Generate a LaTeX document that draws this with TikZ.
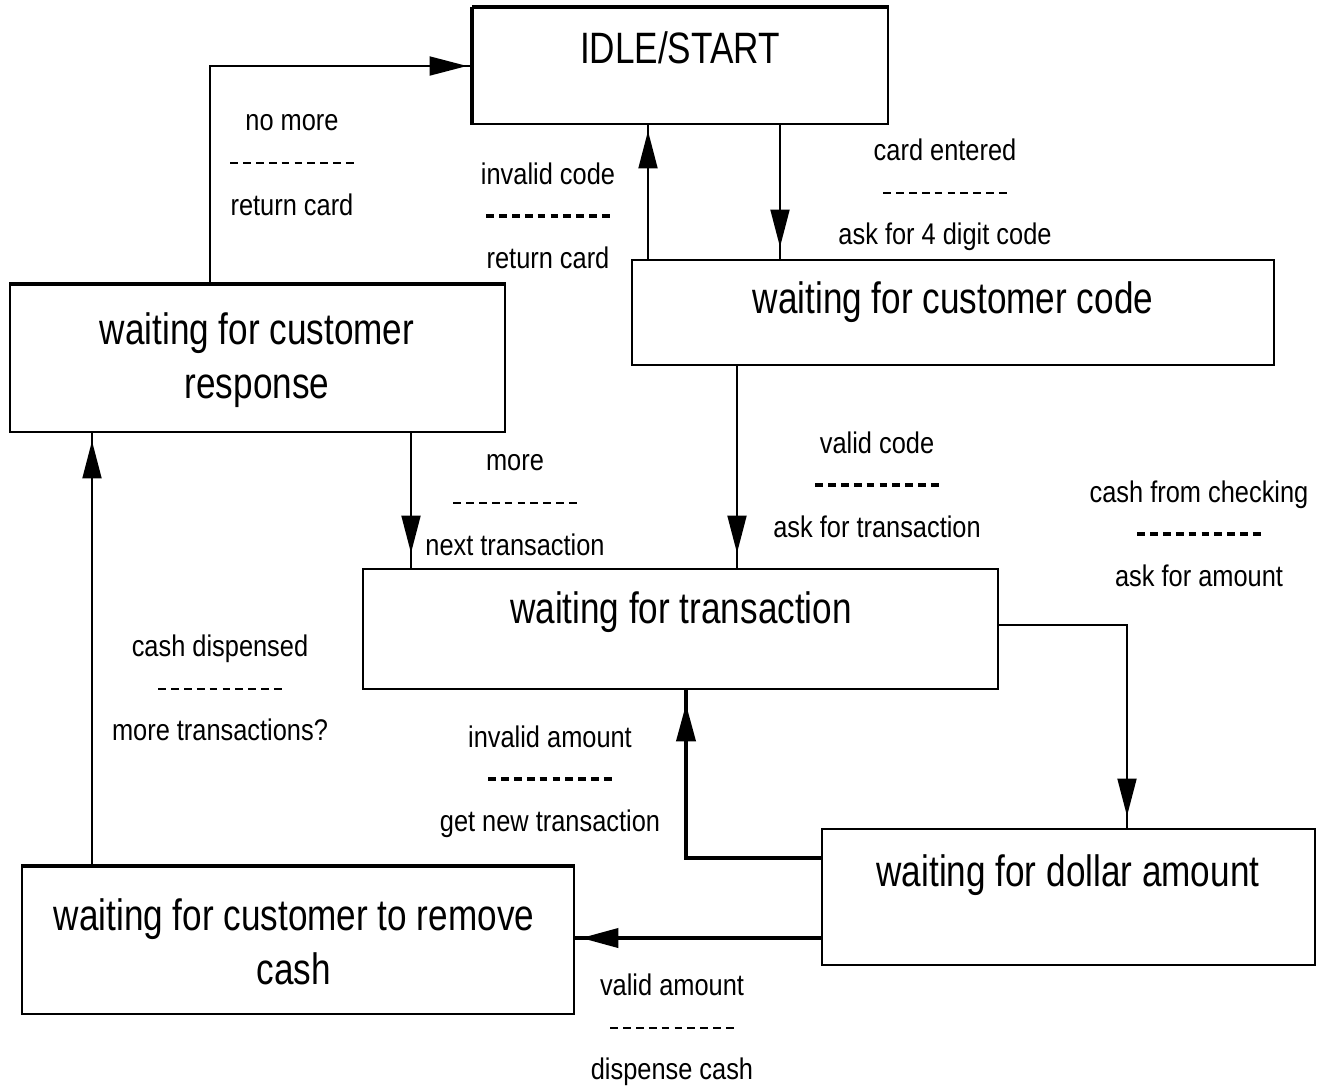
\documentclass[tikz,border=0pt]{standalone}
\usepackage{fontspec}
\setmainfont{Liberation Sans}
\newfontfamily\boxfont[FakeStretch=0.8]{Liberation Sans}
\newfontfamily\lblfont[FakeStretch=0.85]{Liberation Sans}
\usetikzlibrary{arrows.meta,decorations.markings,fit,calc}

% a row of ten short dashes between the event and the action of a label
\newcommand\dashrow[1]{\hbox to 73pt{\cleaders\hbox to 7.3pt{\hss\rule[0.3em]{4.4pt}{#1}\hss}\hfill}}

\begin{document}
\begin{tikzpicture}[
  x=0.02cm, y=-0.02cm,
  box/.style={draw, line width=1.1pt, inner sep=0pt},
  title/.style={font=\boxfont\fontsize{25}{31}\selectfont, align=center, inner sep=0pt},
  lbl/.style={font=\lblfont\fontsize{17}{24}\selectfont, align=center, inner sep=0pt},
  wire/.style={line width=1.1pt},
  heavy/.style={line width=2.3pt},
  flow/.style={postaction={decorate},
    decoration={markings, mark=at position -#1 with {\arrow{Triangle[length=0.75cm,width=0.38cm]}}}},
  flow/.default=0.24cm
]
\useasboundingbox (0,0) rectangle (1325,1090);
\fill[white] (0,0) rectangle (1325,1090);

% states
\node[box, fit={(473,8) (888,124)}] (idle) {};
\node[title, anchor=base] (idle-t) at (680,63) {IDLE/START};

\node[box, fit={(632,260) (1274,365)}] (code) {};
\node[title, anchor=base] (code-t) at (953,313) {waiting for customer code};

\node[box, fit={(10,285) (505,432)}] (resp) {};
\node[title] (resp-t) at (257,360) {waiting for customer\\response};

\node[box, fit={(363,569) (998,689)}] (trans) {};
\node[title, anchor=base] (trans-t) at (681,623) {waiting for transaction};

\node[box, fit={(822,829) (1315,965)}] (dollar) {};
\node[title, anchor=base] (dollar-t) at (1068,886) {waiting for dollar amount};

\node[box, fit={(22,867) (574,1014)}] (cash) {};
\node[title] (cash-t) at (294,942) {waiting for customer to remove\\cash};

% heavier top edges
\draw[line width=2.2pt] (idle.north west) -- (idle.north east);
\draw[line width=1.8pt] (idle.north west) -- (idle.south west);
\draw[line width=2.2pt] (resp.north west) -- (resp.north east);
\draw[line width=2.2pt] (cash.north west) -- (cash.north east);

% columns and rows the connectors run along
\coordinate (xa) at (210,0);
\coordinate (xb) at (648,0);
\coordinate (xc) at (780,0);
\coordinate (xd) at (411,0);
\coordinate (xe) at (737,0);
\coordinate (xf) at (1127,0);
\coordinate (xg) at (686,0);
\coordinate (xh) at (92,0);
\coordinate (ya) at (0,625);
\coordinate (yb) at (0,858);
\coordinate (yc) at (0,938);

% transitions
\draw[wire, flow=0.1cm] (resp.north -| xa) |- (idle.west);
\draw[wire, flow=0.12cm] (code.north -| xb) -- (idle.south -| xb);
\draw[wire, flow] (idle.south -| xc) -- (code.north -| xc);
\draw[wire, flow=0.3cm] (resp.south -| xd) -- (trans.north -| xd);
\draw[wire, flow=0.3cm] (code.south -| xe) -- (trans.north -| xe);
\draw[wire, flow=0.24cm] (trans.east |- ya) -| (dollar.north -| xf);
\draw[heavy, flow=0.28cm] (dollar.west |- yb) -| (trans.south -| xg);
\draw[heavy, flow=0.12cm] (dollar.west |- yc) -- (cash.east |- yc);
\draw[wire, flow=0.16cm] (cash.north -| xh) -- (resp.south -| xh);

% transition labels: event / action
\node[lbl] (l-nomore) at (292,165) {no more\\\dashrow{1.1pt}\\return card};
\node[lbl] (l-invcode) at (548,216) {invalid code\\\dashrow{2.2pt}\\return card};
\node[lbl] (l-card) at (945,195) {card entered\\\dashrow{1.1pt}\\ask for 4 digit code};
\node[lbl] (l-more) at (515,505) {more\\\dashrow{1.1pt}\\next transaction};
\node[lbl] (l-valcode) at (877,485) {valid code\\\dashrow{2.2pt}\\ask for transaction};
\node[lbl] (l-check) at (1199,534) {cash from checking\\\dashrow{2.2pt}\\ask for amount};
\node[lbl] (l-disp) at (220,688) {cash dispensed\\\dashrow{1.1pt}\\more transactions?};
\node[lbl] (l-invamt) at (550,782) {invalid amount\\\dashrow{2.2pt}\\get new transaction};
\node[lbl] (l-valamt) at (672,1030) {valid amount\\\dashrow{1.1pt}\\dispense cash};
\end{tikzpicture}
\end{document}
